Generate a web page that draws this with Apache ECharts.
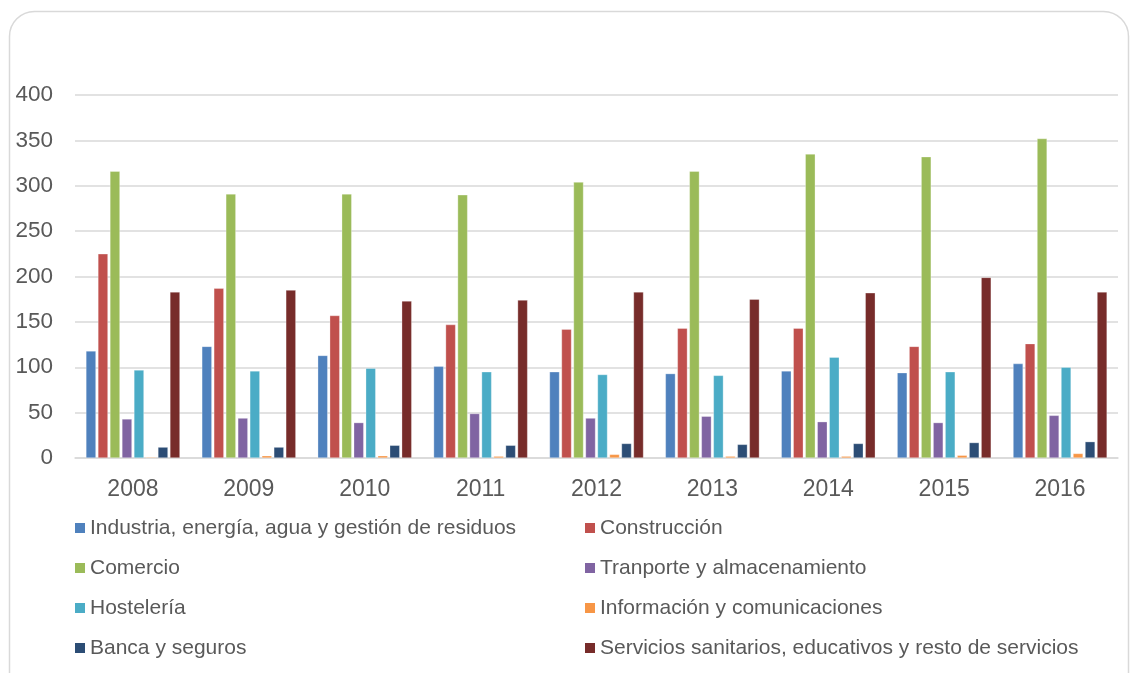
<!DOCTYPE html>
<html><head><meta charset="utf-8">
<script src="https://cdn.jsdelivr.net/npm/echarts@6/dist/echarts.min.js"></script>
<style>html,body{margin:0;padding:0;background:#fff}#c{width:1131px;height:673px}</style>
</head><body><div id="c"></div>
<script>
const years = ['2008','2009','2010','2011','2012','2013','2014','2015','2016'];
const seriesNames = [
  'Industria, energía, agua y gestión de residuos',
  'Construcción',
  'Comercio',
  'Tranporte y almacenamiento',
  'Hostelería',
  'Información y comunicaciones',
  'Banca y seguros',
  'Servicios sanitarios, educativos y resto de servicios'
];
const industria   = [118, 123, 113, 101, 95, 93, 96, 94, 104];
const construccion= [225, 187, 157, 147, 142, 143, 143, 123, 126];
const comercio    = [316, 291, 291, 290, 304, 316, 335, 332, 352];
const transporte  = [43, 44, 39, 49, 44, 46, 40, 39, 47];
const hosteleria  = [97, 96, 99, 95, 92, 91, 111, 95, 100];
const informacion = [1, 2.5, 2.5, 2, 4, 2, 2, 3, 5];
const banca       = [12, 12, 14, 14, 16, 15, 16, 17, 18];
const servicios   = [183, 185, 173, 174, 183, 175, 182, 199, 183];
const yTicks = [0, 50, 100, 150, 200, 250, 300, 350, 400];

const values = [industria, construccion, comercio, transporte, hosteleria, informacion, banca, servicios];
const colors = ['#4F81BD','#C0504D','#9BBB59','#8064A2','#4BACC6','#F79646','#2C4D75','#772C2A'];
const txt = '#595959';
const font = '"Liberation Sans", Arial, sans-serif';

const chart = echarts.init(document.getElementById('c'), null, {renderer:'canvas'});
const legendCommon = {
  orient: 'vertical', top: 517, padding: 0, itemWidth: 10, itemHeight: 10, itemGap: 18, icon: 'rect',
  itemStyle: {borderWidth: 0},
  textStyle: {fontSize: 21, lineHeight: 22, color: txt, fontFamily: font},
  selectedMode: false
};
chart.setOption({
  animation: false,
  textStyle: {fontFamily: font},
  graphic: [{
    type: 'rect', shape: {x: 9.5, y: 11.5, width: 1119, height: 720, r: 25},
    style: {fill: 'none', stroke: '#d9d9d9', lineWidth: 1.5}, silent: true
  }],
  legend: [
    Object.assign({}, legendCommon, {left: 75, data: [seriesNames[0], seriesNames[2], seriesNames[4], seriesNames[6]]}),
    Object.assign({}, legendCommon, {left: 585, data: [seriesNames[1], seriesNames[3], seriesNames[5], seriesNames[7]]})
  ],
  grid: {left: 75, right: 13, top: 95, bottom: 215},
  xAxis: {
    type: 'category', data: years,
    axisLine: {lineStyle: {color: '#d9d9d9', width: 1.5}},
    axisTick: {show: false},
    axisLabel: {fontSize: 23, color: txt, margin: 20}
  },
  yAxis: {
    type: 'value', min: yTicks[0], max: yTicks[yTicks.length-1], interval: 50,
    axisLine: {show: false}, axisTick: {show: false},
    axisLabel: {fontSize: 22.5, color: txt, margin: 22},
    splitLine: {lineStyle: {color: '#d9d9d9', width: 1.5}}
  },
  series: values.map((v, i) => ({
    name: seriesNames[i], type: 'bar', data: v,
    barWidth: 10, barGap: '20%',
    itemStyle: {color: colors[i], borderColor: 'rgba(255,255,255,0.6)', borderWidth: 0.5}
  }))
});
</script></body></html>
